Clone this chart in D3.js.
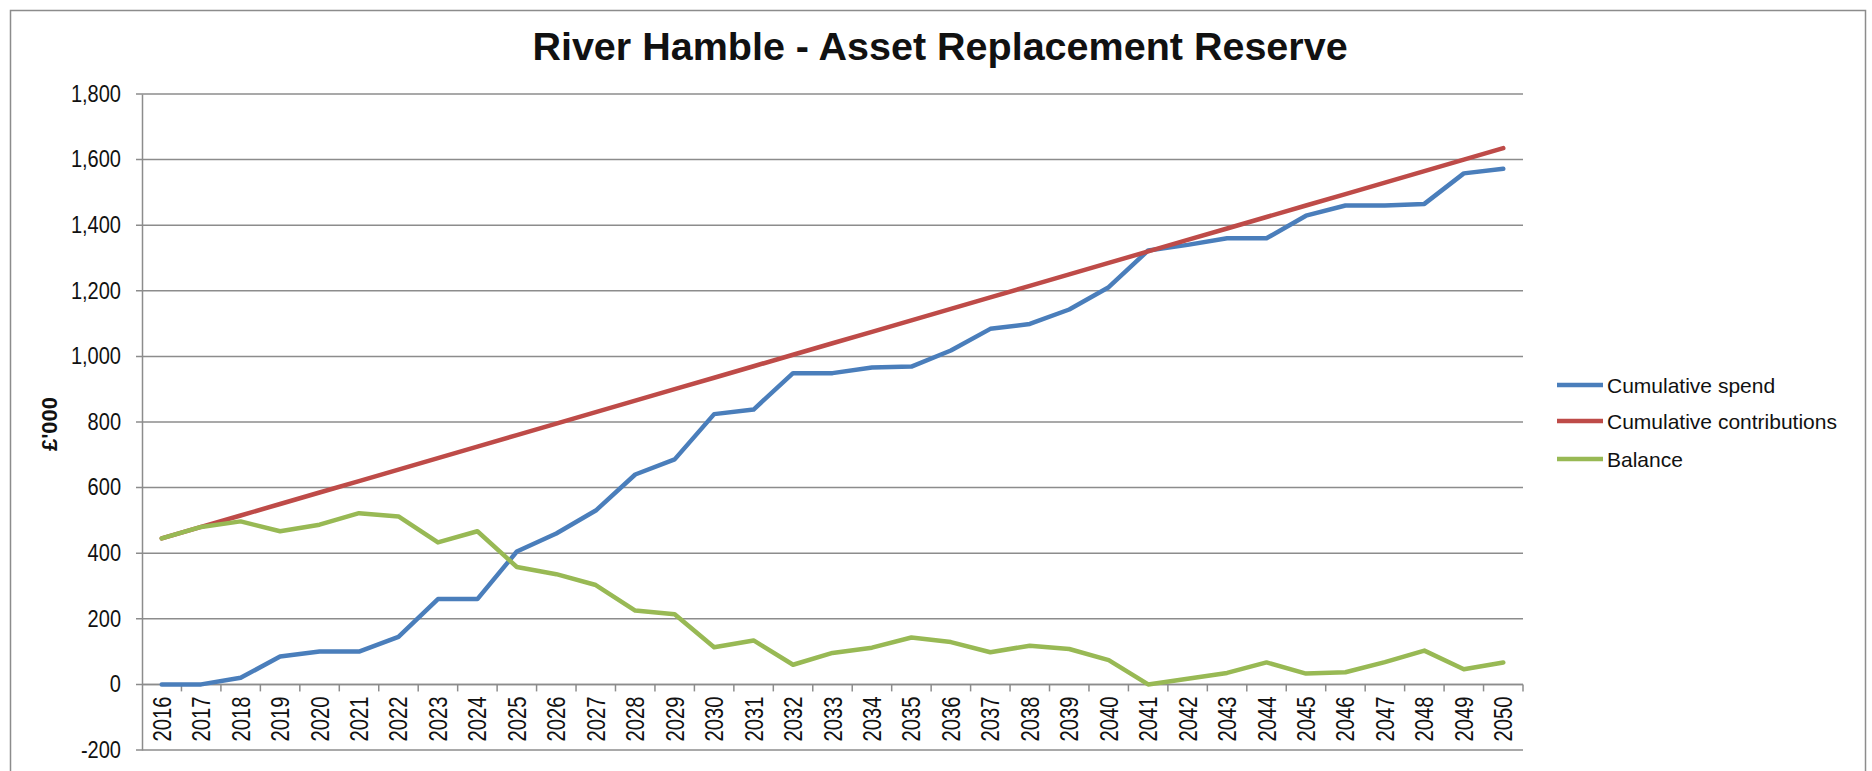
<!DOCTYPE html>
<html>
<head>
<meta charset="utf-8">
<script src="https://cdn.jsdelivr.net/npm/d3@7"></script>
<style>
  body { margin: 0; background: #fff; }
  svg { display: block; font-family: "Liberation Sans", Arial, sans-serif; }
</style>
</head>
<body>
<div id="chart"></div>
<script>
var years = ["2016","2017","2018","2019","2020","2021","2022","2023","2024","2025",
    "2026","2027","2028","2029","2030","2031","2032","2033","2034","2035",
    "2036","2037","2038","2039","2040","2041","2042","2043","2044","2045",
    "2046","2047","2048","2049","2050"];

var spend = [0, 0, 20, 85, 100, 100, 145, 260, 260, 405,
    460, 530, 640, 686, 824, 838, 949, 949, 966, 969,
    1018, 1084, 1099, 1143, 1211, 1323, 1340, 1360, 1360, 1429,
    1460, 1460, 1465, 1558, 1572];

var contributions = [445, 480, 515, 550, 585, 620, 655, 690, 725, 760,
    795, 830, 865, 900, 935, 970, 1005, 1040, 1075, 1110,
    1145, 1180, 1215, 1250, 1285, 1320, 1355, 1390, 1425, 1460,
    1495, 1530, 1565, 1600, 1635];

var balance = [445, 480, 497, 467, 487, 522, 512, 433, 467, 358,
    336, 303, 225, 214, 113, 134, 60, 96, 112, 143,
    129, 98, 118, 108, 74, 0, 17, 35, 67, 33,
    37, 68, 103, 46, 67];

var yTicks = [-200, 0, 200, 400, 600, 800, 1000, 1200, 1400, 1600, 1800];

var seriesNames = ["Cumulative spend", "Cumulative contributions", "Balance"];
var seriesColors = ["#4A7EBB", "#BE4B48", "#98B954"];

(function() {
    var width = 1872;
    var height = 771;
    var svg = d3.select("#chart").append("svg")
        .attr("width", width)
        .attr("height", height);

    var grey = "#8c8c8c";

    // chart frame
    svg.append("rect")
        .attr("x", 10.5).attr("y", 10.5)
        .attr("width", 1855).attr("height", 790)
        .attr("fill", "none")
        .attr("stroke", grey)
        .attr("stroke-width", 1.5);

    var x = d3.scaleBand()
        .domain(years)
        .range([142, 1523]);

    var y = d3.scaleLinear()
        .domain([-200, 1800])
        .range([750, 94]);

    // gridlines
    svg.append("g")
        .selectAll("line")
        .data(yTicks)
        .enter().append("line")
        .attr("x1", 136).attr("x2", 1523)
        .attr("y1", function(d) { return y(d); })
        .attr("y2", function(d) { return y(d); })
        .attr("stroke", grey)
        .attr("stroke-width", 1.5);

    // y axis
    var fmt = d3.format(",");
    var yAxis = svg.append("g")
        .attr("transform", "translate(142,0)")
        .call(d3.axisLeft(y).tickValues(yTicks).tickSize(0).tickPadding(21)
            .tickFormat(function(d) { return fmt(d).replace("\u2212", "-"); }));
    yAxis.select(".domain").attr("stroke", grey).attr("stroke-width", 1.5);
    yAxis.selectAll("text")
        .attr("font-size", 23)
        .attr("fill", "#111")
        .style("font-family", "'Liberation Sans', Arial, sans-serif")
        .each(function() {
            // the original labels are a narrow face
            var w = this.getComputedTextLength();
            d3.select(this).attr("textLength", w * 0.87).attr("lengthAdjust", "spacingAndGlyphs");
        });

    // x axis at zero with boundary ticks
    var xg = svg.append("g");
    xg.append("line")
        .attr("x1", 142).attr("x2", 1523)
        .attr("y1", y(0)).attr("y2", y(0))
        .attr("stroke", grey).attr("stroke-width", 1.5);
    var bounds = years.map(function(d) { return x(d) + x.bandwidth(); });
    xg.selectAll("line.tick")
        .data(bounds)
        .enter().append("line")
        .attr("class", "tick")
        .attr("x1", function(d) { return d; })
        .attr("x2", function(d) { return d; })
        .attr("y1", y(0)).attr("y2", y(0) + 7)
        .attr("stroke", grey).attr("stroke-width", 1.5);
    xg.selectAll("text")
        .data(years)
        .enter().append("text")
        .attr("transform", function(d) {
            return "translate(" + (x(d) + x.bandwidth() / 2) + "," + (y(0) + 12) + ") rotate(-90)";
        })
        .attr("dy", "0.36em")
        .attr("text-anchor", "end")
        .attr("font-size", 25)
        .attr("textLength", 45)
        .attr("lengthAdjust", "spacingAndGlyphs")
        .attr("fill", "#111")
        .text(function(d) { return d; });

    // lines
    var allSeries = [spend, contributions, balance];
    var line = d3.line()
        .x(function(d, i) { return x(years[i]) + x.bandwidth() / 2; })
        .y(function(d) { return y(d); });

    svg.append("g")
        .selectAll("path")
        .data(allSeries)
        .enter().append("path")
        .attr("d", line)
        .attr("fill", "none")
        .attr("stroke", function(d, i) { return seriesColors[i]; })
        .attr("stroke-width", 4.5)
        .attr("stroke-linejoin", "round")
        .attr("stroke-linecap", "round");

    // title
    svg.append("text")
        .attr("x", 940)
        .attr("y", 60)
        .attr("text-anchor", "middle")
        .attr("font-size", 39.5)
        .attr("font-weight", "bold")
        .attr("fill", "#111")
        .text("River Hamble - Asset Replacement Reserve");

    // y axis title
    svg.append("text")
        .attr("transform", "translate(49,424) rotate(-90)")
        .attr("dy", "0.36em")
        .attr("text-anchor", "middle")
        .attr("font-size", 22)
        .attr("font-weight", "bold")
        .attr("fill", "#111")
        .text("£'000");

    // legend
    var legend = svg.append("g")
        .selectAll("g")
        .data(seriesNames)
        .enter().append("g")
        .attr("transform", function(d, i) { return "translate(1557," + [385, 421, 459][i] + ")"; });
    legend.append("line")
        .attr("x1", 0).attr("x2", 46)
        .attr("y1", 0).attr("y2", 0)
        .attr("stroke", function(d, i) { return seriesColors[i]; })
        .attr("stroke-width", 4.5);
    legend.append("text")
        .attr("x", 50)
        .attr("dy", "0.36em")
        .attr("font-size", 21)
        .attr("fill", "#111")
        .text(function(d) { return d; });
})();
</script>
</body>
</html>
